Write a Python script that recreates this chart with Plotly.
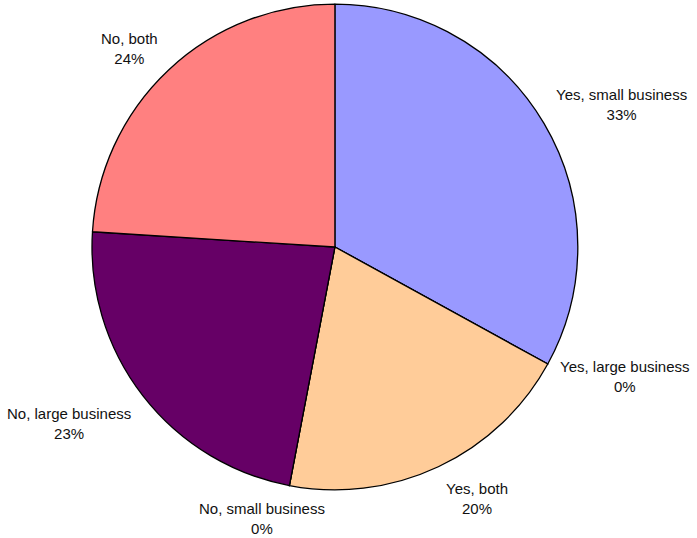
import math
import plotly.graph_objects as go

# Survey answers and their shares (percent)
labels = ["Yes, small business", "Yes, large business", "Yes, both",
          "No, small business", "No, large business", "No, both"]
values = [33, 0, 20, 0, 23, 24]
colors = ["#9999FF", "#993366", "#FFCC99", "#CCFFFF", "#660066", "#FF8080"]

W, H = 697, 538
# pie domain (paper fractions)
dom_x = [0.132, 0.829]
dom_y = [0.0892, 0.9926]

fig = go.Figure(go.Pie(
    labels=labels,
    values=values,
    sort=False,
    direction="clockwise",
    rotation=0,
    marker=dict(colors=colors, line=dict(color="#000000", width=1.3)),
    textinfo="none",
    hoverinfo="label+percent",
    domain=dict(x=dom_x, y=dom_y),
    showlegend=False,
))

# outside labels placed at each slice's mid-angle
total = sum(values)
cx_px = (dom_x[0] + dom_x[1]) / 2 * W
cy_px = (1 - (dom_y[0] + dom_y[1]) / 2) * H
R_px = min((dom_x[1] - dom_x[0]) * W, (dom_y[1] - dom_y[0]) * H) / 2
r_lab = R_px * 1.05

annotations = []
cum = 0.0
for lab, v in zip(labels, values):
    mid = (cum + v / 2) / total * 2 * math.pi
    cum += v
    s, c = math.sin(mid), math.cos(mid)
    px = cx_px + r_lab * s
    py = cy_px - r_lab * c
    xshift, yshift = 0, 0
    if abs(s) < 0.25:
        xa = "center"
        xshift = round(s * 135)
    elif s > 0:
        xa = "left"
    else:
        xa = "right"
    if abs(c) < 0.5:
        ya = "middle"
        yshift = -7
    elif c > 0:
        ya = "bottom"
        yshift = -8
    else:
        ya = "top"
    pct = round(v / total * 100)
    annotations.append(dict(
        x=px / W, y=1 - py / H, xref="paper", yref="paper",
        text=f"{lab}<br>{pct}%", showarrow=False,
        xanchor=xa, yanchor=ya, align="center",
        xshift=xshift, yshift=yshift,
        font=dict(family="Liberation Sans, Arial, sans-serif", size=15, color="#111111"),
    ))

fig.update_layout(
    width=W, height=H,
    margin=dict(l=0, r=0, t=0, b=0),
    paper_bgcolor="white",
    plot_bgcolor="white",
    annotations=annotations,
)

fig.write_html("out.html")
